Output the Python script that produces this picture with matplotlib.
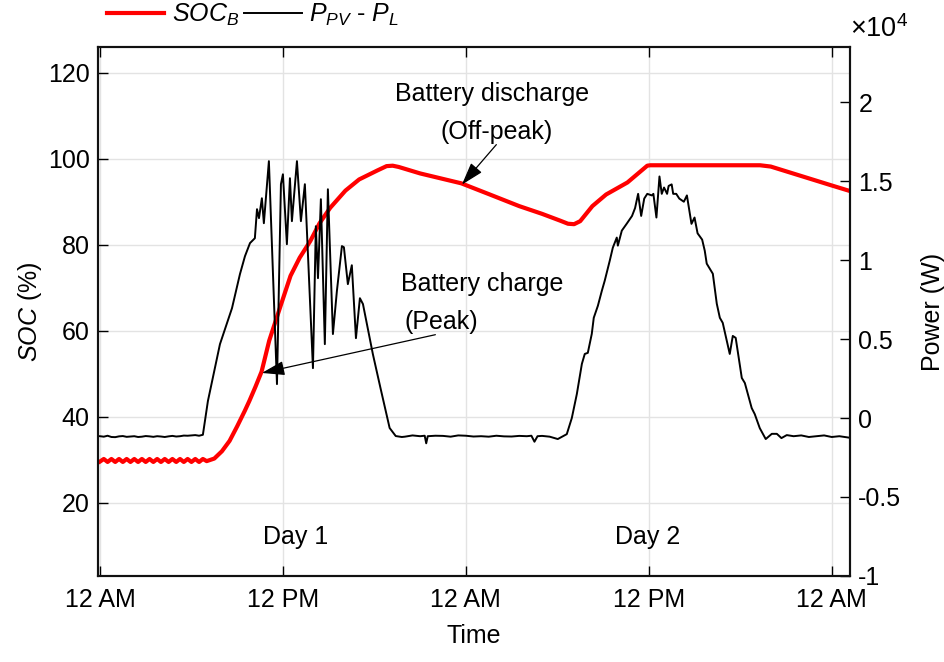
#plot battery SOC and net PV power over two days

import matplotlib
matplotlib.use("Agg")
import matplotlib.pyplot as plt
from matplotlib.ticker import FuncFormatter

plt.rcParams['font.family'] = ['Liberation Sans', 'DejaVu Sans']
plt.rcParams['mathtext.fontset'] = 'custom'
plt.rcParams['mathtext.rm'] = 'Liberation Sans'
plt.rcParams['mathtext.it'] = 'Liberation Sans:italic'
plt.rcParams['font.size'] = 18

# battery state of charge (%), time in hours from first midnight
soc_h = [0.0, 0.25, 0.5, 0.75, 1.0, 1.25, 1.5, 1.75, 2.0, 2.25, 2.5, 2.75, 3.0, 3.25,
         3.5, 3.75, 4.0, 4.25, 4.5, 4.75, 5.0, 5.25, 5.5, 5.75, 6.0, 6.25, 6.5, 6.75,
         7.0, 7.5, 8.0, 8.5, 9.0, 9.5, 9.8, 10.2, 10.6, 11.1, 11.8, 12.5, 13.1, 13.8,
         14.4, 15.1, 16.1, 17.0, 18.2, 18.8, 19.2, 19.6, 21.0, 23.7, 25.5, 27.5, 29.0,
         30.2, 30.7, 31.1, 31.5, 32.3, 33.2, 34.6, 35.9, 36.1, 43.3, 44.0, 46.0, 48.0, 49.2]
soc = [29.6, 30.2, 29.5, 30.2, 29.5, 30.2, 29.5, 30.2, 29.5, 30.2, 29.5, 30.2, 29.5, 30.2,
       29.5, 30.2, 29.5, 30.2, 29.5, 30.2, 29.5, 30.2, 29.5, 30.2, 29.5, 30.2, 29.5, 30.2,
       29.7, 30.3, 32.0, 34.4, 37.8, 41.4, 43.7, 47.0, 50.5, 57.7, 65.3, 72.8, 77.0, 80.9,
       85.0, 88.6, 92.6, 95.2, 97.3, 98.3, 98.4, 98.1, 96.6, 94.3, 91.8, 89.0, 87.2,
       85.6, 84.9, 84.8, 85.5, 89.0, 91.7, 94.5, 98.4, 98.5, 98.5, 98.2, 96.0, 93.8, 92.5]

# net power P_PV - P_L (W)
p_h = [0.0, 0.25, 0.5, 0.75, 1.0, 1.25, 1.5, 1.75, 2.0, 2.25, 2.5, 2.75, 3.0, 3.25,
       3.5, 3.75, 4.0, 4.25, 4.5, 4.75, 5.0, 5.25, 5.5, 5.75, 6.0, 6.25, 6.5, 6.75,
       7.08, 7.87, 8.66, 9.18, 9.51, 9.84, 10.16, 10.30, 10.43, 10.62, 10.75, 11.08,
       11.61, 11.87, 12.0, 12.26, 12.46, 12.59, 12.92, 13.18, 13.44, 13.97, 14.16,
       14.30, 14.49, 14.75, 14.95, 15.28, 15.54, 15.87, 16.0, 16.26, 16.52, 16.79,
       17.05, 17.25, 17.90, 18.4, 19.0, 19.4, 19.8,
       20.0, 20.5, 21.0, 21.3, 21.4, 21.5, 22.0, 22.5, 23.0, 23.5, 24.0, 24.5, 25.0,
       25.5, 26.0, 26.5, 27.0, 27.5, 28.0, 28.3, 28.5, 28.7, 29.0, 29.5, 30.03,
       30.62, 30.95, 31.28, 31.61, 31.8, 32.0, 32.26, 32.39, 32.66, 32.92, 33.11,
       33.44, 33.64, 33.9, 33.97, 34.23, 34.56, 34.9, 35.1, 35.3, 35.5, 35.7, 35.9,
       36.2, 36.3, 36.5, 36.7, 36.85, 37.0, 37.2, 37.3, 37.5, 37.6, 37.8, 38.0, 38.3,
       38.5, 38.8, 39.0, 39.2, 39.5, 39.67, 39.8, 40.2, 40.46, 40.66, 40.85, 41.31,
       41.51, 41.7, 42.1, 42.3, 42.75, 42.95, 43.28, 43.67, 44.07, 44.4, 44.7, 45.05,
       45.5, 46.0, 46.5, 47.0, 47.5, 48.0, 48.5, 49.2]
p_w = [-1150, -1180, -1120, -1200, -1210, -1160, -1140, -1190, -1170, -1150, -1200, -1180,
       -1140, -1160, -1190, -1150, -1170, -1200, -1160, -1130, -1170, -1150, -1110, -1120,
       -1100, -1080, -1120, -1060,
       1080, 4680, 6960, 9110, 10250, 11080, 11390, 13230, 12660, 13920, 12340, 16270,
       2150, 14810, 15440, 11010, 15190, 12470, 16270, 12470, 14810, 3160, 12150,
       8860, 13860, 4680, 14490, 5320, 8040, 10890, 10820, 8480, 9680, 5060,
       7590, 7220, 4050, 1900, -630, -1140, -1200,
       -1180, -1100, -1150, -1120, -1600, -1150, -1120, -1130, -1180, -1100, -1120, -1170, -1150,
       -1180, -1120, -1160, -1170, -1130, -1150, -1120, -1500, -1150, -1130, -1180, -1330,
       -1020, 0, 1520, 3430, 4060, 4130, 5330, 6350, 7110, 8060, 8700,
       9970, 10790, 11430, 10920, 11870, 12320, 12800, 13300, 14200, 12800, 13900, 14200,
       14100, 14200, 12700, 15300, 14200, 14600, 14200, 14700, 14800, 14200, 14200, 13900, 13700,
       14100, 12300, 12700, 11700, 11300, 10600, 9780, 9140, 7240, 6350, 6030, 4060,
       5200, 5080, 2540, 2220, 630, 250, -640, -1330, -1000, -1000, -1270, -1080,
       -1150, -1100, -1200, -1150, -1100, -1200, -1150, -1250]

xticks = [0, 12, 24, 36, 48]
xticklabels = ['12 AM', '12 PM', '12 AM', '12 PM', '12 AM']
soc_ticks = [20, 40, 60, 80, 100, 120]
p_ticks = [-10000, -5000, 0, 5000, 10000, 15000, 20000]

fig = plt.figure(figsize=(9.45, 6.62), dpi=100)
ax = fig.add_axes([0.1037, 0.130, 0.7958, 0.799])
ax2 = ax.twinx()

l1, = ax.plot(soc_h, soc, color='red', lw=3, label=r'$SOC_B$')
l2, = ax2.plot(p_h, p_w, color='black', lw=1.4, label=r'$P_{PV}$ - $P_L$')

ax.set_xlim(-0.13, 49.2)
ax.set_ylim(3, 126)
ax2.set_ylim(-10000, 23500)
ax.set_xticks(xticks)
ax.set_xticklabels(xticklabels)
ax.set_yticks(soc_ticks)
ax2.set_yticks(p_ticks)
ax2.yaxis.set_major_formatter(FuncFormatter(lambda v, pos: f'{v/1e4:g}'))

ax.grid(True, color='#e3e3e3', lw=1)
ax.set_axisbelow(True)
ax.tick_params(direction='in', length=7, width=1, top=True, right=False)
ax.tick_params(axis='x', pad=9)
ax.tick_params(axis='y', pad=6)
ax2.tick_params(direction='in', length=7, width=1, pad=6)
for a in (ax, ax2):
    for s in a.spines.values():
        s.set_linewidth(1.5)
        s.set_color('#111111')

ax.set_xlabel('Time', labelpad=8)
ax.set_ylabel(r'$SOC$ (%)', labelpad=3)
ax2.set_ylabel('Power (W)', labelpad=14)
ax2.text(1.0, 1.008, r'$\times10^{4}$', transform=ax2.transAxes, ha='left', va='bottom',
         fontsize=19.5)

# annotations
ax.text(12.85, 12.1, 'Day 1', ha='center', va='center')
ax.text(35.9, 12.1, 'Day 2', ha='center', va='center')
ax.text(25.7, 115.1, 'Battery discharge', ha='center', va='center')
ax.text(26.0, 106.3, '(Off-peak)', ha='center', va='center')
ax.text(25.1, 70.9, 'Battery charge', ha='center', va='center')
ax.text(22.4, 62.1, '(Peak)', ha='center', va='center')
arrow = dict(arrowstyle='-|>,head_length=0.7,head_width=0.22', color='black', lw=0.9,
             mutation_scale=20, shrinkA=0, shrinkB=0)
ax2.annotate('', xy=(23.74, 94.0), xytext=(26.0, 103.3), xycoords=ax.transData,
             textcoords=ax.transData, arrowprops=arrow, zorder=10)
ax2.annotate('', xy=(10.62, 50.2), xytext=(22.0, 59.1), xycoords=ax.transData,
             textcoords=ax.transData, arrowprops=arrow, zorder=10)

fig.legend(handles=[l1, l2], loc='center left', bbox_to_anchor=(0.113, 0.977), ncol=2,
           frameon=False, handlelength=2.3, handletextpad=0.3, columnspacing=0.2,
           borderpad=0, borderaxespad=0)

fig.savefig('out.png', dpi=100)
